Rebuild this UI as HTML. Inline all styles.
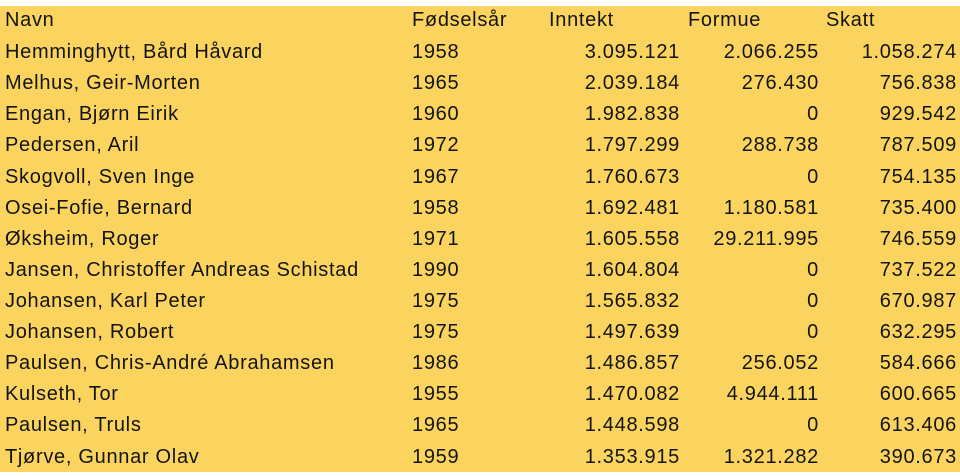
<!DOCTYPE html>
<html><head><meta charset="utf-8"><style>
body{margin:0;width:960px;height:476px;background:#fff;overflow:hidden;position:relative}
#bg{position:absolute;left:0;top:6px;width:960px;height:466px;background:#FAD45E}
.r{position:absolute;left:0;width:960px;height:30px;font-family:"Liberation Sans",sans-serif;font-size:20px;letter-spacing:0.7px;color:#141414;line-height:30px}
.r span{position:absolute;white-space:nowrap}
.a{left:5px}.b{left:412px}
.c{right:280px;text-align:right}.d{right:141px}.e{right:3px}
</style></head><body><div id="bg"></div>
<div class="r" style="top:5px"><span class="a">Navn</span><span class="b">Fødselsår</span><span style="left:549px">Inntekt</span><span style="left:688px">Formue</span><span style="left:826px">Skatt</span></div>
<div class="r" style="top:37px"><span class="a">Hemminghytt, Bård Håvard</span><span class="b">1958</span><span class="c">3.095.121</span><span class="d">2.066.255</span><span class="e">1.058.274</span></div>
<div class="r" style="top:68px"><span class="a">Melhus, Geir-Morten</span><span class="b">1965</span><span class="c">2.039.184</span><span class="d">276.430</span><span class="e">756.838</span></div>
<div class="r" style="top:99px"><span class="a">Engan, Bjørn Eirik</span><span class="b">1960</span><span class="c">1.982.838</span><span class="d">0</span><span class="e">929.542</span></div>
<div class="r" style="top:130px"><span class="a">Pedersen, Aril</span><span class="b">1972</span><span class="c">1.797.299</span><span class="d">288.738</span><span class="e">787.509</span></div>
<div class="r" style="top:162px"><span class="a">Skogvoll, Sven Inge</span><span class="b">1967</span><span class="c">1.760.673</span><span class="d">0</span><span class="e">754.135</span></div>
<div class="r" style="top:193px"><span class="a">Osei-Fofie, Bernard</span><span class="b">1958</span><span class="c">1.692.481</span><span class="d">1.180.581</span><span class="e">735.400</span></div>
<div class="r" style="top:224px"><span class="a">Øksheim, Roger</span><span class="b">1971</span><span class="c">1.605.558</span><span class="d">29.211.995</span><span class="e">746.559</span></div>
<div class="r" style="top:255px"><span class="a">Jansen, Christoffer Andreas Schistad</span><span class="b">1990</span><span class="c">1.604.804</span><span class="d">0</span><span class="e">737.522</span></div>
<div class="r" style="top:286px"><span class="a">Johansen, Karl Peter</span><span class="b">1975</span><span class="c">1.565.832</span><span class="d">0</span><span class="e">670.987</span></div>
<div class="r" style="top:317px"><span class="a">Johansen, Robert</span><span class="b">1975</span><span class="c">1.497.639</span><span class="d">0</span><span class="e">632.295</span></div>
<div class="r" style="top:348px"><span class="a">Paulsen, Chris-André Abrahamsen</span><span class="b">1986</span><span class="c">1.486.857</span><span class="d">256.052</span><span class="e">584.666</span></div>
<div class="r" style="top:379px"><span class="a">Kulseth, Tor</span><span class="b">1955</span><span class="c">1.470.082</span><span class="d">4.944.111</span><span class="e">600.665</span></div>
<div class="r" style="top:410px"><span class="a">Paulsen, Truls</span><span class="b">1965</span><span class="c">1.448.598</span><span class="d">0</span><span class="e">613.406</span></div>
<div class="r" style="top:442px"><span class="a">Tjørve, Gunnar Olav</span><span class="b">1959</span><span class="c">1.353.915</span><span class="d">1.321.282</span><span class="e">390.673</span></div>
</body></html>
